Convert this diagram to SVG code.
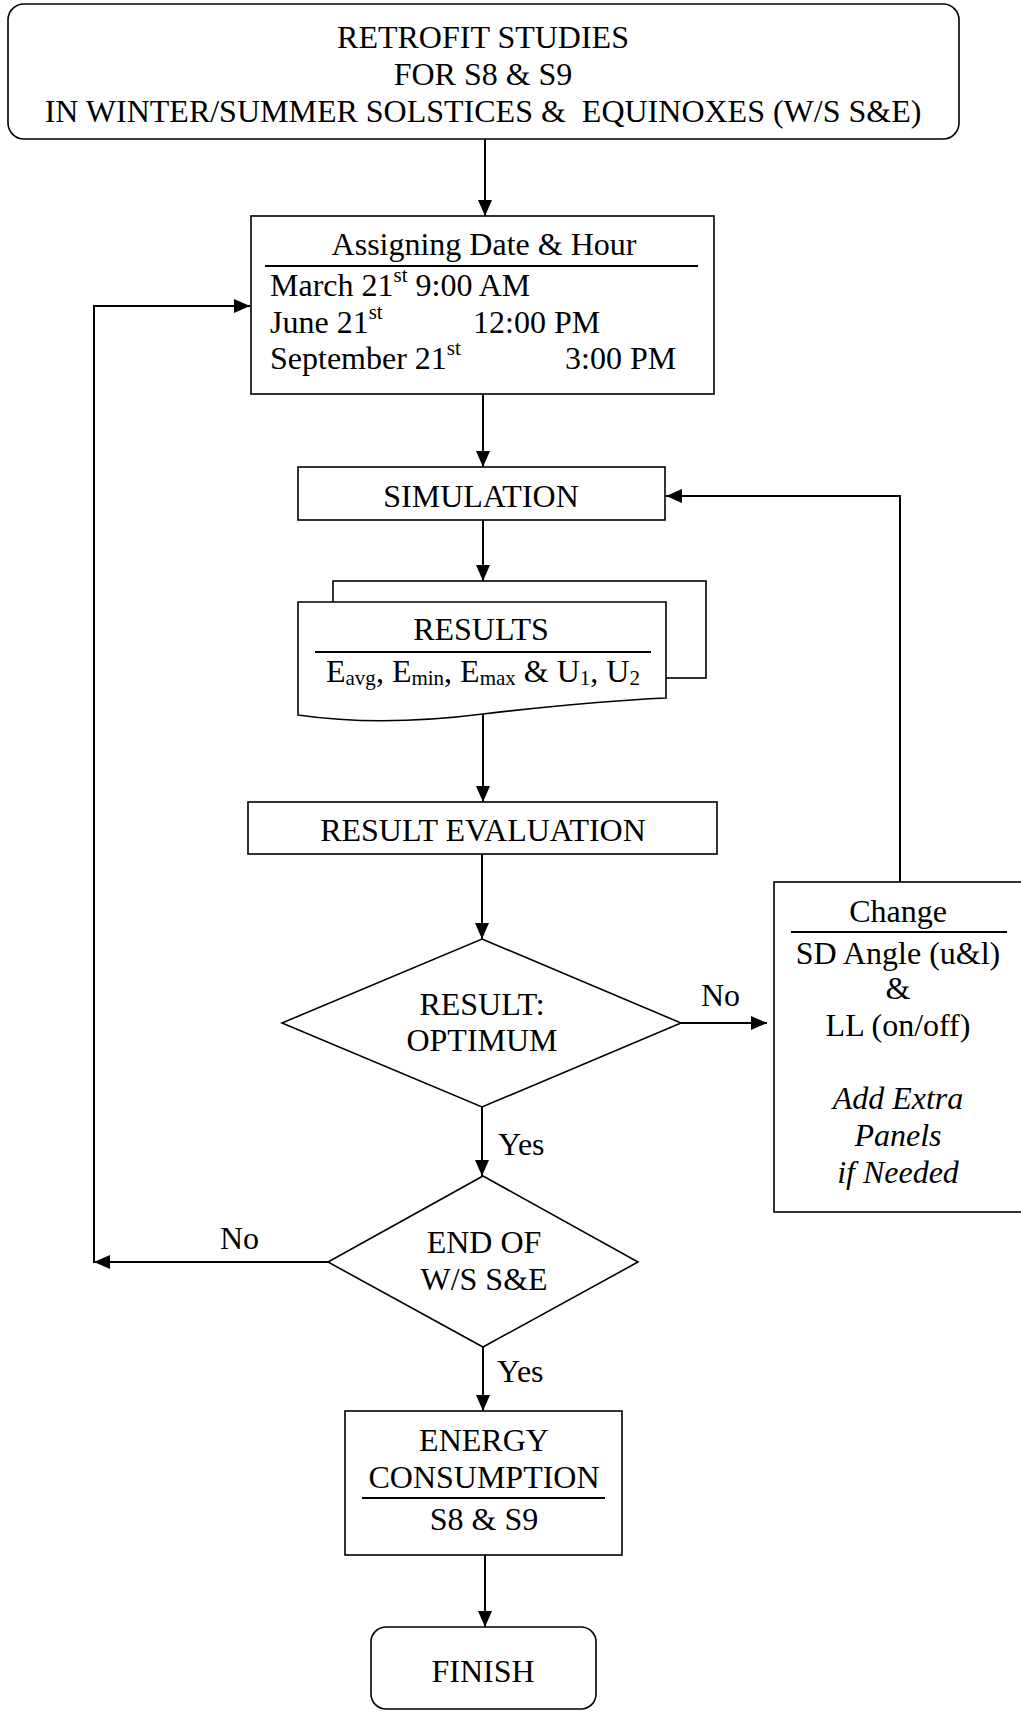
<svg xmlns="http://www.w3.org/2000/svg" width="1021" height="1712" viewBox="0 0 1021 1712">
<defs>
<marker id="ah" markerUnits="userSpaceOnUse" markerWidth="16" markerHeight="14" refX="16" refY="7" orient="auto"><path d="M0,0 L16,7 L0,14 z" fill="#000"/></marker>
<style>
text{font-family:"Liberation Serif","Times New Roman",serif;font-size:32px;fill:#000}
.c{text-anchor:middle}
.box{fill:#fff;stroke:#000;stroke-width:1.6}
.ul{stroke:#000;stroke-width:2.2}
.conn{fill:none;stroke:#000;stroke-width:2}
.sm{font-size:21px}
.it{font-style:italic}
</style>
</defs>
<rect width="1021" height="1712" fill="#fff"/>
<g id="connectors" class="conn">
<path d="M485,139 V216" marker-end="url(#ah)"/>
<path d="M483,394 V467" marker-end="url(#ah)"/>
<path d="M483,520 V581" marker-end="url(#ah)"/>
<path d="M483,714 V802" marker-end="url(#ah)"/>
<path d="M482,854 V939" marker-end="url(#ah)"/>
<path d="M681,1023 H767" marker-end="url(#ah)"/>
<path d="M482,1107 V1176" marker-end="url(#ah)"/>
<path d="M328,1262 H94" marker-end="url(#ah)"/>
<path d="M94,1263 V306 H250" marker-end="url(#ah)"/>
<path d="M483,1347 V1411" marker-end="url(#ah)"/>
<path d="M485,1555 V1627" marker-end="url(#ah)"/>
<path d="M900,882 V496 H666" marker-end="url(#ah)"/>
</g>
<g id="labels">
<text x="701" y="1006">No</text>
<text x="498" y="1155">Yes</text>
<text x="220" y="1249">No</text>
<text x="497" y="1382">Yes</text>
</g>
<g id="start">
<rect class="box" x="8" y="4" width="951" height="135" rx="16"/>
<text class="c" x="483" y="48">RETROFIT STUDIES</text>
<text class="c" x="483" y="85">FOR S8 &amp; S9</text>
<text class="c" x="483" y="122" xml:space="preserve">IN WINTER/SUMMER SOLSTICES &amp;  EQUINOXES (W/S S&amp;E)</text>
</g>
<g id="assign">
<rect class="box" x="251" y="216" width="463" height="178"/>
<text class="c" x="484" y="255">Assigning Date &amp; Hour</text>
<line class="ul" x1="265" y1="266" x2="698" y2="266"/>
<text x="270" y="296">March 21<tspan class="sm" dy="-14">st</tspan><tspan dy="14"> 9:00 AM</tspan></text>
<text x="270" y="333">June 21<tspan class="sm" dy="-14">st</tspan></text>
<text x="473" y="333">12:00 PM</text>
<text x="270" y="369">September 21<tspan class="sm" dy="-14">st</tspan></text>
<text x="565" y="369">3:00 PM</text>
</g>
<g id="simulation">
<rect class="box" x="298" y="467" width="367" height="53"/>
<text class="c" x="481" y="507">SIMULATION</text>
</g>
<g id="results">
<rect class="box" x="333" y="581" width="373" height="97"/>
<path class="box" d="M298,602 H666 V698 C620,700 560,705 483,714 C420,722 360,724 298,715 Z"/>
<text class="c" x="481" y="640">RESULTS</text>
<line class="ul" x1="315" y1="652" x2="651" y2="652"/>
<text x="326" y="682">E<tspan class="sm" dy="3">avg</tspan><tspan dy="-3">, E</tspan><tspan class="sm" dy="3">min</tspan><tspan dy="-3">, E</tspan><tspan class="sm" dy="3">max</tspan><tspan dy="-3"> &amp; U</tspan><tspan class="sm" dy="3">1</tspan><tspan dy="-3">, U</tspan><tspan class="sm" dy="3">2</tspan></text>
</g>
<g id="evaluation">
<rect class="box" x="248" y="802" width="469" height="52"/>
<text class="c" x="483" y="841">RESULT EVALUATION</text>
</g>
<g id="optimum">
<path class="box" d="M482,939 L681,1023 L482,1107 L282,1023 Z"/>
<text class="c" x="482" y="1015">RESULT:</text>
<text class="c" x="482" y="1051">OPTIMUM</text>
</g>
<g id="change">
<rect class="box" x="774" y="882" width="250" height="330"/>
<text class="c" x="898" y="922">Change</text>
<line class="ul" x1="791" y1="932" x2="1007" y2="932"/>
<text class="c" x="898" y="964">SD Angle (u&amp;l)</text>
<text class="c" x="898" y="999">&amp;</text>
<text class="c" x="898" y="1036">LL (on/off)</text>
<text class="c it" x="898" y="1109">Add Extra</text>
<text class="c it" x="898" y="1146">Panels</text>
<text class="c it" x="898" y="1183">if Needed</text>
</g>
<g id="end">
<path class="box" d="M483,1176 L638,1262 L483,1347 L328,1262 Z"/>
<text class="c" x="484" y="1253">END OF</text>
<text class="c" x="484" y="1290">W/S S&amp;E</text>
</g>
<g id="energy">
<rect class="box" x="345" y="1411" width="277" height="144"/>
<text class="c" x="484" y="1451">ENERGY</text>
<text class="c" x="484" y="1488">CONSUMPTION</text>
<line class="ul" x1="362" y1="1498" x2="605" y2="1498"/>
<text class="c" x="484" y="1530">S8 &amp; S9</text>
</g>
<g id="finish">
<rect class="box" x="371" y="1627" width="225" height="82" rx="15"/>
<text class="c" x="483" y="1682">FINISH</text>
</g>
</svg>
